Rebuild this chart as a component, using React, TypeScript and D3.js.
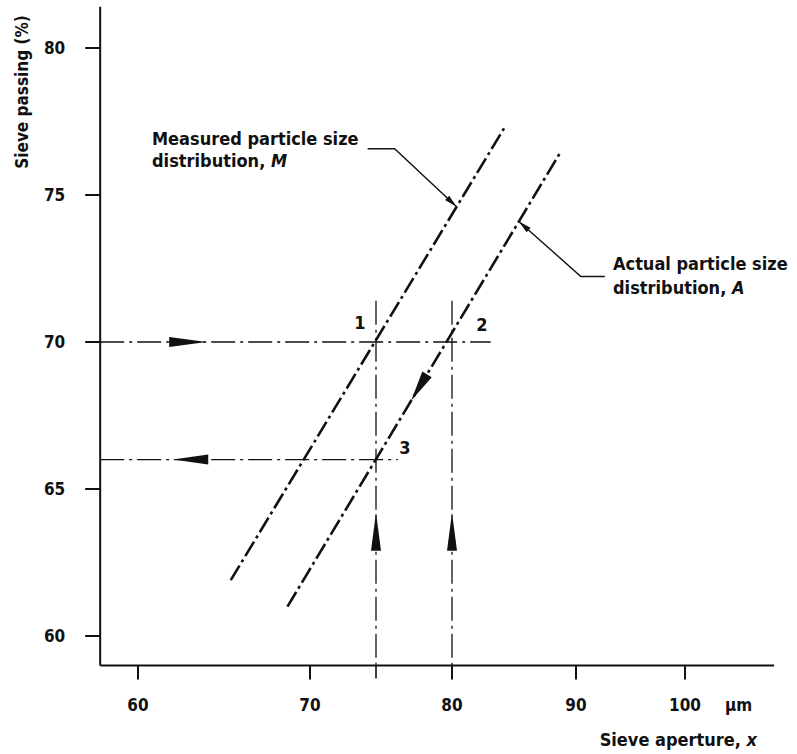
import React from 'react';
import * as d3 from 'd3';

// sieve aperture ticks (µm, log axis) and passing ticks (%)
const xTicks = [60, 70, 80, 90, 100];
const yTicks = [60, 65, 70, 75, 80];

// the two size distributions, [aperture, passing] at each end
const measuredPsd = [[65.2, 61.9], [84.1, 77.3]];
const actualPsd = [[68.6, 61.0], [88.6, 76.4]];

// construction lines
const levels = [70, 66];          // passing levels read across
const levelEnds = [83.0, 76.4];   // aperture where each level line stops
const apertures = [75, 80];       // apertures read up
const apertureTop = 71.4;         // passing where vertical lines stop

const pointLabels = ['1', '2', '3'];
const pointX = [75, 80, 75];
const pointY = [70, 70, 66];

// arrows, [tail, tip] in data units
const levelArrows = [[61.7, 63.8], [63.9, 61.9]]; // along the level lines
const apertureArrow = [62.9, 64.2];                // along the vertical lines
const slopeArrow = [68.9, 68.0];                   // along actual line, by passing

// where the leaders touch the lines (passing %)
const measuredLeaderAt = 74.6;
const actualLeaderAt = 74.1;

const xAxisEnds = [58, 109];
const yAxisEnds = [59, 81.4];

const FONT = "'DejaVu Sans Condensed', 'DejaVu Sans', sans-serif";
const INK = '#111';

// the printed log axis is not quite even, so it is pinned at the ticks (and 75)
const x = d3.scaleLog().domain([60, 70, 75, 80, 90, 100]).range([138, 310, 376, 452, 576, 685]);
const y = d3.scaleLinear().domain([60, 80]).range([636, 48]);

type P = [number, number];
const px = (d: number[]): P => [x(d[0]), y(d[1])];

function onLine(line: number[][], passing: number): P {
  const a = px(line[0]);
  const b = px(line[1]);
  const yy = y(passing);
  const t = (yy - a[1]) / (b[1] - a[1]);
  return [a[0] + t * (b[0] - a[0]), yy];
}

function arrowHead(tail: P, tip: P, half: number) {
  const dx = tip[0] - tail[0];
  const dy = tip[1] - tail[1];
  const len = Math.hypot(dx, dy);
  const nx = -dy / len;
  const ny = dx / len;
  return `M${tip[0]},${tip[1]}L${tail[0] + nx * half},${tail[1] + ny * half}L${tail[0] - nx * half},${tail[1] - ny * half}Z`;
}

const seg = d3.line();

export default function App() {
  const x0 = x(xAxisEnds[0]);
  const y0 = y(yAxisEnds[0]);

  const mEnd = onLine(measuredPsd, measuredLeaderAt);
  const mKnee: P = [mEnd[0] - 62, mEnd[1] - 58];
  const mStart: P = [mKnee[0] - 27, mKnee[1]];
  const aEnd = onLine(actualPsd, actualLeaderAt);
  const aKnee: P = [aEnd[0] + 62, aEnd[1] + 55];
  const aStart: P = [aKnee[0] + 24, aKnee[1]];

  const leaderTip = (from: P, to: P): P => {
    const l = Math.hypot(to[0] - from[0], to[1] - from[1]);
    return [to[0] - ((to[0] - from[0]) / l) * 13, to[1] - ((to[1] - from[1]) / l) * 13];
  };

  const labelOffsets: P[] = [[-16, 6 - 19], [30, 6 - 17], [29, 6 - 12]];

  return (
    <svg width={797} height={754} style={{ position: 'absolute', left: 0, top: 0, background: '#fff' }}
      fontFamily={FONT} fontStretch="condensed" fontWeight="bold" fill={INK}>
      {/* axes */}
      <line x1={x0} x2={x0} y1={y0} y2={y(yAxisEnds[1])} stroke={INK} strokeWidth={2} />
      <line x1={x0} x2={x(xAxisEnds[1])} y1={y0} y2={y0} stroke={INK} strokeWidth={2} />

      {yTicks.map(t => (
        <g key={'y' + t}>
          <line x1={x0 - 15} x2={x0} y1={y(t)} y2={y(t)} stroke={INK} strokeWidth={2} />
          <text x={x0 - 35} y={y(t) + 6} textAnchor="end" fontSize={17}>{t}</text>
        </g>
      ))}
      {xTicks.map(t => (
        <g key={'x' + t}>
          <line x1={x(t)} x2={x(t)} y1={y0} y2={y0 + 14} stroke={INK} strokeWidth={2} />
          <text x={x(t)} y={y0 + 46} textAnchor="middle" fontSize={17}>{t}</text>
        </g>
      ))}
      <text x={x(100) + 40} y={y0 + 46} fontSize={17}>μm</text>
      <text x={757} y={746} textAnchor="end" fontSize={18}>
        Sieve aperture, <tspan fontStyle="italic">x</tspan>
      </text>
      <text transform={`translate(28, 92) rotate(-90)`} textAnchor="middle" fontSize={17}>Sieve passing (%)</text>

      {/* construction lines */}
      {levels.map((lv, i) => (
        <path key={'lv' + lv} d={seg([[x0, y(lv)], [x(levelEnds[i]), y(lv)]])!}
          fill="none" stroke={INK} strokeWidth={1.3} strokeDasharray="24 5 3 5" />
      ))}
      {apertures.map(ap => (
        <g key={'ap' + ap}>
          <path d={seg([[x(ap), y(apertureTop)], [x(ap), y0]])!}
            fill="none" stroke={INK} strokeWidth={1.3} strokeDasharray="24 5 3 5" />
          <line x1={x(ap)} x2={x(ap)} y1={y0} y2={y0 + 13} stroke={INK} strokeWidth={1.6} />
        </g>
      ))}

      {/* distributions */}
      {[measuredPsd, actualPsd].map((ln, i) => (
        <path key={'psd' + i} d={seg(ln.map(px))!} fill="none" stroke={INK}
          strokeWidth={2.6} strokeDasharray="17 4 3 4" />
      ))}

      {/* arrows */}
      {levelArrows.map((a, i) => (
        <path key={'la' + i} d={arrowHead([x(a[0]), y(levels[i])], [x(a[1]), y(levels[i])], 5)} fill={INK} />
      ))}
      {apertures.map(ap => (
        <path key={'aa' + ap} d={arrowHead([x(ap), y(apertureArrow[0])], [x(ap), y(apertureArrow[1])], 5)} fill={INK} />
      ))}
      <path d={arrowHead(onLine(actualPsd, slopeArrow[0]), onLine(actualPsd, slopeArrow[1]), 5.5)} fill={INK} />

      {/* point labels */}
      {pointLabels.map((lb, i) => (
        <text key={lb} x={x(pointX[i]) + labelOffsets[i][0]} y={y(pointY[i]) + labelOffsets[i][1]}
          textAnchor="middle" fontSize={18}>{lb}</text>
      ))}

      {/* leaders */}
      <path d={seg([mStart, mKnee, mEnd])!} fill="none" stroke={INK} strokeWidth={1.4} />
      <path d={arrowHead(leaderTip(mKnee, mEnd), mEnd, 3)} fill={INK} />
      <path d={seg([aStart, aKnee, aEnd])!} fill="none" stroke={INK} strokeWidth={1.4} />
      <path d={arrowHead(leaderTip(aKnee, aEnd), aEnd, 3)} fill={INK} />

      <text x={152} y={145} fontSize={18}>Measured particle size</text>
      <text x={152} y={167} fontSize={18}>distribution, <tspan fontStyle="italic">M</tspan></text>
      <text x={613} y={270} fontSize={18}>Actual particle size</text>
      <text x={613} y={294} fontSize={18}>distribution, <tspan fontStyle="italic">A</tspan></text>
    </svg>
  );
}
